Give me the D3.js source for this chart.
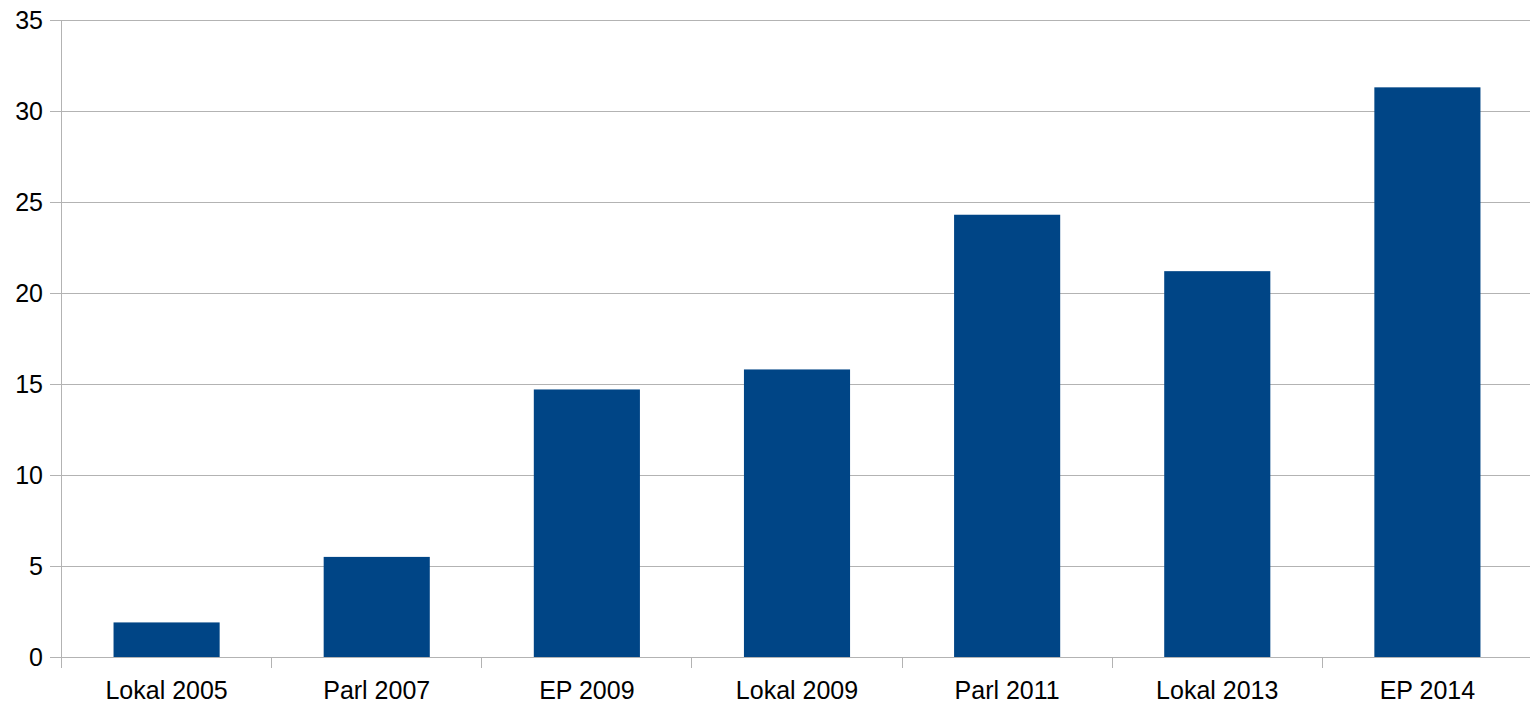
<!DOCTYPE html>
<html><head><meta charset="utf-8">
<script src="https://cdn.jsdelivr.net/npm/d3@7"></script>
<style>body{margin:0;background:#fff}svg{display:block}text{font-family:"Liberation Sans",Arial,sans-serif;fill:#000}</style>
</head><body>
<svg id="c" width="1530" height="706"></svg>
<script>
const categories = ["Lokal 2005","Parl 2007","EP 2009","Lokal 2009","Parl 2011","Lokal 2013","EP 2014"];
const values = [1.9, 5.5, 14.7, 15.8, 24.3, 21.2, 31.3];
const yTicks = [0,5,10,15,20,25,30,35];

const svg = d3.select("#c");
const pLeft = 61, pRight = 1533, pTop = 20, pBottom = 657;
const x = d3.scaleBand().domain(categories).range([pLeft, pRight]).paddingInner(0.495).paddingOuter(0.25);
const y = d3.scaleLinear().domain([0,35]).range([pBottom, pTop]);

// gridlines
svg.append("g").selectAll("line").data(yTicks).join("line")
  .attr("x1", 50).attr("x2", 1530)
  .attr("y1", d => Math.round(y(d)) + 0.5).attr("y2", d => Math.round(y(d)) + 0.5)
  .attr("stroke", "#b3b3b3").attr("stroke-width", 1);

// bars
svg.append("g").selectAll("rect").data(values).join("rect")
  .attr("x", (d,i) => x(categories[i])).attr("width", x.bandwidth())
  .attr("y", d => y(d)).attr("height", d => y(0) - y(d))
  .attr("fill", "#004586");

// y axis line
svg.append("line").attr("x1", pLeft + 0.5).attr("x2", pLeft + 0.5).attr("y1", pTop).attr("y2", 668)
  .attr("stroke", "#b3b3b3");

// x category ticks
const step = x.step();
const bounds = d3.range(categories.length + 1).map(i => pLeft + i * step);
svg.append("g").selectAll("line").data(bounds).join("line")
  .attr("x1", d => Math.round(d) + 0.5).attr("x2", d => Math.round(d) + 0.5)
  .attr("y1", pBottom).attr("y2", 668)
  .attr("stroke", "#b3b3b3");

// y labels
svg.append("g").selectAll("text").data(yTicks).join("text")
  .attr("x", 43).attr("y", d => y(d)).attr("dy", "0.35em")
  .attr("text-anchor", "end").attr("font-size", 25).text(d => d);

// x labels
svg.append("g").selectAll("text").data(categories).join("text")
  .attr("x", d => x(d) + x.bandwidth()/2).attr("y", 699)
  .attr("text-anchor", "middle").attr("font-size", 25).text(d => d);
</script>
</body></html>
